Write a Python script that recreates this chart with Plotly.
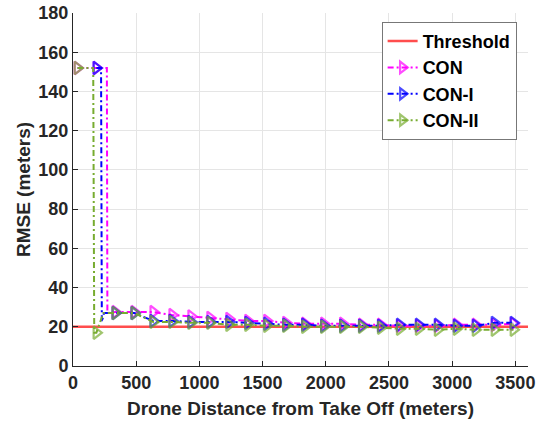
import plotly.graph_objects as go

# ---- data ----
threshold_x = [0, 3600]
threshold_y = [20, 20]

con_x = [35, 185, 268, 272, 335, 485, 635, 785, 935, 1085, 1235, 1385, 1535, 1685, 1835, 1985,
         2135, 2285, 2435, 2585, 2735, 2885, 3035, 3185, 3335, 3485]
con_y = [152, 152, 152, 27, 27.5, 27.5, 27.5, 26, 25.3, 24.5, 24, 23, 23, 22, 21.5, 21.5,
         21.5, 21, 21, 20.5, 20.5, 20.5, 21, 21, 21, 21.5]
con_mark = [True, True, False, False] + [True] * 22

coni_x = [185, 222, 228, 245, 335, 485, 635, 785, 935, 1085, 1235, 1385, 1535, 1685, 1835, 1985,
          2135, 2285, 2435, 2585, 2735, 2885, 3035, 3185, 3335, 3485]
coni_y = [152, 152, 22.5, 27, 27, 27, 23, 23, 22.5, 22.5, 22.5, 22, 21.5, 21, 21, 20.5,
          20.5, 20.5, 20.5, 21, 21, 21, 20.5, 20.5, 22, 22]
coni_mark = [True, False, False, False] + [True] * 22

conii_x = [35, 160, 168, 185, 240, 335, 485, 635, 785, 935, 1085, 1235, 1385, 1535, 1685, 1835,
           1985, 2135, 2285, 2435, 2585, 2735, 2885, 3035, 3185, 3335, 3485]
conii_y = [152, 152, 17, 17, 27, 27, 27, 22.5, 22.5, 22, 22, 21, 21, 20.5, 20.5, 20,
           20, 20, 20, 19.5, 19, 19, 18.5, 19, 18.5, 18.5, 18.5]
conii_mark = [True, False, False, True, False] + [True] * 22

x_ticks = [0, 500, 1000, 1500, 2000, 2500, 3000, 3500]
y_ticks = [0, 20, 40, 60, 80, 100, 120, 140, 160, 180]

FONT = "Liberation Sans, Arial, sans-serif"

fig = go.Figure()
fig.add_trace(go.Scatter(x=threshold_x, y=threshold_y, mode="lines", name="Threshold",
                         line=dict(color="#FF4D4D", width=2.4)))


def add_series(xs, ys, marks, name, color):
    sizes = [11 if m else 0 for m in marks]
    fig.add_trace(go.Scatter(
        x=xs, y=ys, mode="lines+markers", name=name,
        line=dict(color=color, width=2, dash="6px,3px,2px,3px"),
        marker=dict(symbol="triangle-right-open", size=sizes, color=color,
                    line=dict(width=2.2, color=color)),
        cliponaxis=False))


add_series(con_x, con_y, con_mark, "CON", "#FF00FF")
add_series(coni_x, coni_y, coni_mark, "CON-I", "#0000FF")
add_series(conii_x, conii_y, conii_mark, "CON-II", "#77AC30")

axis_common = dict(showgrid=True, gridcolor="#E5E5E5", gridwidth=1, zeroline=False,
                   showline=True, linecolor="#262626", linewidth=1, ticks="inside",
                   ticklen=5, tickcolor="#262626", mirror=False, automargin=False,
                   tickfont=dict(family=FONT, size=18, color="#262626"))

fig.update_xaxes(range=[0, 3600], tickvals=x_ticks,
                 ticktext=["<b>%d</b>" % v for v in x_ticks],
                 title=dict(text="<b>Drone Distance from Take Off (meters)</b>",
                            font=dict(family=FONT, size=19, color="#262626"), standoff=10),
                 **axis_common)
fig.update_yaxes(range=[0, 180], tickvals=y_ticks,
                 ticktext=["<b>%d</b>" % v for v in y_ticks],
                 title=dict(text="<b>RMSE (meters)</b>",
                            font=dict(family=FONT, size=19, color="#262626"), standoff=2),
                 **axis_common)
fig.update_layout(
    width=538, height=427,
    margin=dict(l=73, r=10, t=13, b=61),
    plot_bgcolor="white", paper_bgcolor="white",
    font=dict(family=FONT),
    legend=dict(x=0.975, y=0.975, xanchor="right", yanchor="top",
                bgcolor="white", bordercolor="#777777", borderwidth=1,
                font=dict(family=FONT, size=18, color="black"),
                tracegroupgap=0, itemwidth=30),
)
# bold legend text
for tr in fig.data:
    tr.name = "<b>" + tr.name + "</b>"

fig.write_html("out.html")
